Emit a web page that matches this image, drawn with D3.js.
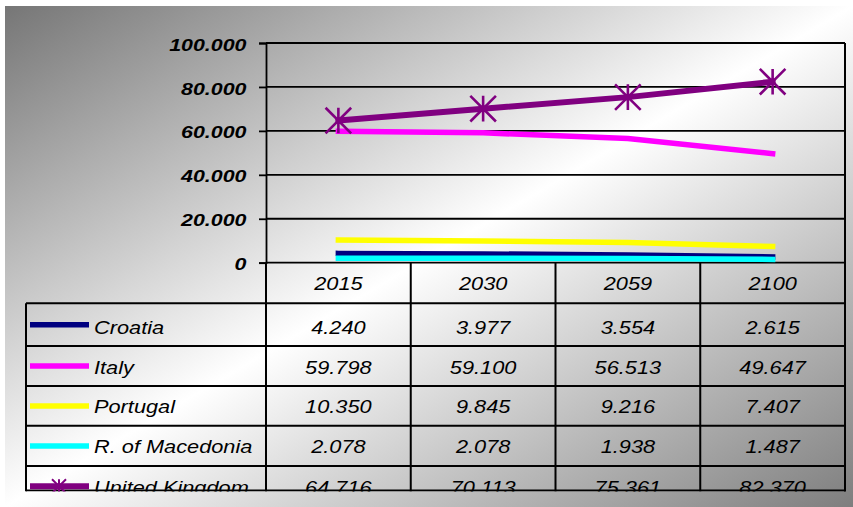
<!DOCTYPE html>
<html>
<head>
<meta charset="utf-8">
<script src="https://cdn.jsdelivr.net/npm/d3@7"></script>
<style>
  html, body { margin: 0; padding: 0; background: #ffffff; }
  svg { display: block; }
</style>
</head>
<body>
<svg id="chart" width="853" height="507"></svg>
<script>
// Population projections (millions), one array per country
const years = ["2015", "2030", "2059", "2100"];
const croatia = [4.240, 3.977, 3.554, 2.615];
const italy = [59.798, 59.100, 56.513, 49.647];
const portugal = [10.350, 9.845, 9.216, 7.407];
const macedonia = [2.078, 2.078, 1.938, 1.487];
const unitedKingdom = [64.716, 70.113, 75.361, 82.370];
const seriesNames = ["Croatia", "Italy", "Portugal", "R. of Macedonia", "United Kingdom"];
const yTicks = [0, 20, 40, 60, 80, 100];

const series = [
  { name: seriesNames[0], values: croatia, color: "#000080", width: 5.5, marker: false },
  { name: seriesNames[1], values: italy, color: "#ff00ff", width: 5.5, marker: false },
  { name: seriesNames[2], values: portugal, color: "#ffff00", width: 5.5, marker: false },
  { name: seriesNames[3], values: macedonia, color: "#00ffff", width: 5.5, marker: false },
  { name: seriesNames[4], values: unitedKingdom, color: "#800080", width: 6, marker: true }
];

const svg = d3.select("#chart");
const FONT = "'Liberation Sans', Arial, sans-serif";

// Layout
const plotLeft = 266, plotRight = 845, plotTop = 43, plotBottom = 262.7;
const tableLeft = 26, tableBottom = 491.5;
// top edge of each table body row, plus the (clipped) bottom of the last one
const rowEdges = [303.3, 346, 386, 425.8, 466, 506.5];

// Background: diagonal grey-white-grey wash
const defs = svg.append("defs");
const grad = defs.append("linearGradient")
  .attr("id", "bg").attr("x1", 0).attr("y1", 0).attr("x2", 1).attr("y2", 1);
grad.append("stop").attr("offset", 0).attr("stop-color", "#767676");
grad.append("stop").attr("offset", 0.5).attr("stop-color", "#ffffff");
grad.append("stop").attr("offset", 1).attr("stop-color", "#7e7e7e");

defs.append("clipPath").attr("id", "tableClip")
  .append("rect").attr("x", 0).attr("y", 0).attr("width", 853).attr("height", tableBottom);

svg.append("rect")
  .attr("x", 5).attr("y", 6).attr("width", 848).attr("height", 501)
  .attr("fill", "url(#bg)");

// Scales
const x = d3.scaleBand().domain(years).range([plotLeft, plotRight]).padding(0);
const cx = d => x(d) + x.bandwidth() / 2;
const y = d3.scaleLinear().domain([0, 100]).range([plotBottom, plotTop]);

// Gridlines
svg.append("g").selectAll("line").data(yTicks).join("line")
  .attr("x1", plotLeft).attr("x2", plotRight)
  .attr("y1", d => y(d)).attr("y2", d => y(d))
  .attr("stroke", "#000").attr("stroke-width", 1.8);

// Y axis
const yAxis = svg.append("g")
  .attr("transform", `translate(${plotLeft},0)`)
  .call(d3.axisLeft(y).tickValues(yTicks).tickSize(7).tickPadding(12)
    .tickFormat(v => v === 0 ? "0" : d3.format(".3f")(v)));
yAxis.select(".domain").attr("stroke", "#000").attr("stroke-width", 1.8);
yAxis.selectAll(".tick line").attr("stroke", "#000").attr("stroke-width", 1.8);
yAxis.selectAll(".tick text")
  .attr("font-family", FONT).attr("font-size", 17.4)
  .attr("font-weight", "bold").attr("font-style", "italic")
  .attr("fill", "#000").attr("dy", "0.35em")
  .each(function () {
    const t = d3.select(this);
    const xx = +t.attr("x");
    t.attr("x", null).attr("transform", `translate(${xx - 0.5},1) scale(1.23,1)`);
  });

// Plot frame: top and right edges
svg.append("line").attr("x1", plotLeft).attr("x2", plotRight)
  .attr("y1", plotTop).attr("y2", plotTop).attr("stroke", "#000").attr("stroke-width", 2);
svg.append("line").attr("x1", plotRight).attr("x2", plotRight)
  .attr("y1", plotTop).attr("y2", tableBottom).attr("stroke", "#000").attr("stroke-width", 2);

// Series lines
const lineGen = d3.line().x((d, i) => cx(years[i])).y(d => y(d));
const asterisk = r => `M${-r},${-r}L${r},${r}M${-r},${r}L${r},${-r}M0,${-r}L0,${r}`;

const gLines = svg.append("g");
series.forEach(s => {
  gLines.append("path")
    .attr("d", lineGen(s.values))
    .attr("fill", "none").attr("stroke", s.color)
    .attr("stroke-width", s.width).attr("stroke-linecap", "square")
    .attr("stroke-linejoin", "round");
  if (s.marker) {
    gLines.selectAll(null).data(s.values).join("path")
      .attr("transform", (d, i) => `translate(${cx(years[i])},${y(d)})`)
      .attr("d", asterisk(12.8))
      .attr("fill", "none").attr("stroke", s.color).attr("stroke-width", 2.6);
  }
});

// Data table
const table = svg.append("g").attr("clip-path", "url(#tableClip)");

// Horizontal rules
rowEdges.slice(0, 5).forEach(ry => {
  table.append("line").attr("x1", tableLeft).attr("x2", plotRight)
    .attr("y1", ry).attr("y2", ry)
    .attr("stroke", "#000").attr("stroke-width", 2);
});
table.append("line").attr("x1", tableLeft).attr("x2", plotRight)
  .attr("y1", tableBottom - 1).attr("y2", tableBottom - 1)
  .attr("stroke", "#000").attr("stroke-width", 2);

// Vertical rules
table.append("line").attr("x1", tableLeft).attr("x2", tableLeft)
  .attr("y1", rowEdges[0]).attr("y2", tableBottom)
  .attr("stroke", "#000").attr("stroke-width", 2);
table.append("line").attr("x1", plotLeft).attr("x2", plotLeft)
  .attr("y1", plotBottom).attr("y2", tableBottom)
  .attr("stroke", "#000").attr("stroke-width", 2);
years.slice(1).forEach(yr => {
  table.append("line").attr("x1", x(yr)).attr("x2", x(yr))
    .attr("y1", plotBottom).attr("y2", tableBottom)
    .attr("stroke", "#000").attr("stroke-width", 2);
});

const tableText = (g, txt, tx, ty, anchor) =>
  g.append("text")
    .attr("transform", `translate(${tx},${ty}) scale(1.17,1)`)
    .attr("text-anchor", anchor)
    .attr("font-family", FONT).attr("font-size", 18.6).attr("font-style", "italic")
    .attr("fill", "#000").text(txt);

// Header row: years
years.forEach(yr => tableText(table, yr, cx(yr), (plotBottom + rowEdges[0]) / 2 + 7, "middle"));

// Body rows: legend key, name, values
const fmt = d3.format(".3f");
series.forEach((s, i) => {
  const mid = (rowEdges[i] + rowEdges[i + 1]) / 2;
  table.append("line").attr("x1", 30).attr("x2", 89)
    .attr("y1", mid).attr("y2", mid)
    .attr("stroke", s.color).attr("stroke-width", s.width);
  if (s.marker) {
    table.append("path").attr("transform", `translate(59,${mid})`)
      .attr("d", asterisk(7)).attr("fill", "none")
      .attr("stroke", s.color).attr("stroke-width", 2);
  }
  const base = mid + (i === 0 ? 9.5 : 7.5);
  tableText(table, s.name, 94, base, "start");
  s.values.forEach((v, j) => tableText(table, fmt(v), cx(years[j]), base, "middle"));
});
</script>
</body>
</html>
